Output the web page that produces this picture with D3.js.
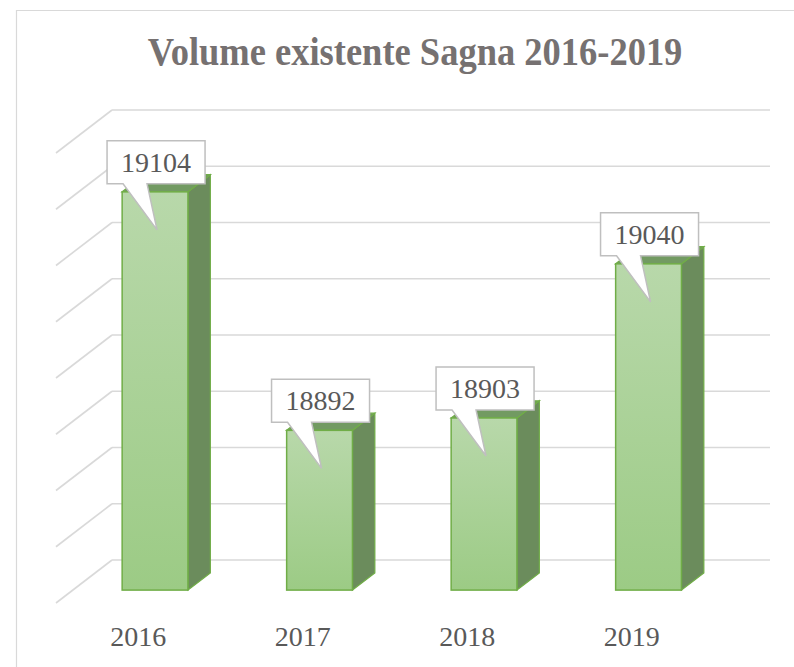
<!DOCTYPE html>
<html>
<head>
<meta charset="utf-8">
<script src="https://cdn.jsdelivr.net/npm/d3@7"></script>
<style>
  body { margin: 0; background: #fff; }
</style>
</head>
<body>
<div id="chart"></div>
<script>
// data
var years = ["2016", "2017", "2018", "2019"];
var volumes = [19104, 18892, 18903, 19040];
var yTicks = [18750, 18800, 18850, 18900, 18950, 19000, 19050, 19100, 19150];

var W = 794, H = 667;
var serif = "'Liberation Serif', 'Times New Roman', Times, 'DejaVu Serif', serif";
// back wall of the 3D box, and the depth offset to the front edge
var wallLeft = 112, wallRight = 770, wallTop = 110, wallBottom = 560;
var depthX = -56, depthY = 43;
var barFront = 0.7, barBack = 0.3;

var svg = d3.select("#chart").append("svg")
      .attr("width", W)
      .attr("height", H);

// chart border (cropped at right & bottom)
svg.append("path")
      .attr("d", "M16.5," + H + " V10.5 H" + W)
      .attr("fill", "none")
      .attr("stroke", "#d9d9d9")
      .attr("stroke-width", 1.2);

svg.append("text")
      .attr("transform", "translate(415,65) scale(1,1.08)")
      .attr("text-anchor", "middle")
      .style("font-family", serif)
      .style("font-size", "36.5px")
      .style("font-weight", "bold")
      .attr("fill", "#767171")
      .text("Volume existente Sagna 2016-2019");

var x = d3.scaleBand()
      .domain(years)
      .range([wallLeft, wallRight]);

var y = d3.scaleLinear()
      .domain([18750, 19150])
      .range([wallBottom, wallTop]);

// project a point at depth d (0 = back wall, 1 = front edge)
function px(xv, d) { return xv + depthX * d; }
function py(yv, d) { return yv + depthY * d; }

// gridlines: back wall + left side wall
var grid = svg.append("g")
      .attr("stroke", "#d9d9d9")
      .attr("stroke-width", 1.6)
      .attr("fill", "none");

yTicks.forEach(function(t) {
      grid.append("line")
            .attr("x1", wallLeft).attr("y1", y(t))
            .attr("x2", wallRight).attr("y2", y(t));
      grid.append("line")
            .attr("x1", wallLeft).attr("y1", y(t))
            .attr("x2", px(wallLeft, 1)).attr("y2", py(y(t), 1));
});

var defs = svg.append("defs");
var grad = defs.append("linearGradient")
      .attr("id", "frontGrad")
      .attr("x1", 0).attr("y1", 0).attr("x2", 0).attr("y2", 1);
grad.append("stop").attr("offset", "0%").attr("stop-color", "#b8d8aa");
grad.append("stop").attr("offset", "100%").attr("stop-color", "#9ccb85");

var bars = years.map(function(yr, i) {
      return { year: yr, value: volumes[i] };
});

var barW = x.bandwidth() * 0.4;
var base = 18750;

var g = svg.append("g");

bars.forEach(function(b) {
      var cx = x(b.year) + x.bandwidth() / 2;
      var x0 = cx - barW / 2, x1 = cx + barW / 2;
      var yTop = y(b.value), yBot = y(base);

      var fl = px(x0, barFront), fr = px(x1, barFront);
      var bl = px(x0, barBack), br = px(x1, barBack);
      var fTop = py(yTop, barFront), fBot = py(yBot, barFront);
      var bTop = py(yTop, barBack), bBot = py(yBot, barBack);

      // side face
      g.append("path")
            .attr("d", "M" + fr + "," + fTop + "L" + br + "," + bTop +
                  "L" + br + "," + bBot + "L" + fr + "," + fBot + "Z")
            .attr("fill", "#6b8c5c")
            .attr("stroke", "#70ad47")
            .attr("stroke-width", 1.2);
      // top face
      g.append("path")
            .attr("d", "M" + fl + "," + fTop + "L" + bl + "," + bTop +
                  "L" + br + "," + bTop + "L" + fr + "," + fTop + "Z")
            .attr("fill", "#729a62")
            .attr("stroke", "#70ad47")
            .attr("stroke-width", 1.2);
      // front face
      g.append("rect")
            .attr("x", fl)
            .attr("y", fTop)
            .attr("width", fr - fl)
            .attr("height", fBot - fTop)
            .attr("fill", "url(#frontGrad)")
            .attr("stroke", "#70ad47")
            .attr("stroke-width", 1.5);

      b.fcx = (fl + fr) / 2;
      b.fTop = fTop;
});

// category labels on the front edge
years.forEach(function(yr) {
      svg.append("text")
            .attr("x", px(x(yr) + x.bandwidth() / 2, 1))
            .attr("y", 646)
            .attr("text-anchor", "middle")
            .style("font-family", serif)
            .style("font-size", "28px")
            .attr("fill", "#595959")
            .text(yr);
});

// callout data labels
var boxW = 98, boxH = 43;
bars.forEach(function(b) {
      var left = b.fcx - 48;
      var bottom = b.fTop - 8;
      var top = bottom - boxH;
      var tipX = b.fcx + 2, tipY = b.fTop + 38;
      var d = "M" + left + "," + top +
            "H" + (left + boxW) +
            "V" + bottom +
            "H" + (left + 40) +
            "L" + tipX + "," + tipY +
            "L" + (left + 16) + "," + bottom +
            "H" + left + "Z";
      svg.append("path")
            .attr("d", d)
            .attr("fill", "#fff")
            .attr("stroke", "#bfbfbf")
            .attr("stroke-width", 1.5);
      svg.append("text")
            .attr("x", left + boxW / 2)
            .attr("y", top + 31)
            .attr("text-anchor", "middle")
            .style("font-family", serif)
            .style("font-size", "28px")
            .attr("fill", "#595959")
            .text(b.value);
});
</script>
</body>
</html>
